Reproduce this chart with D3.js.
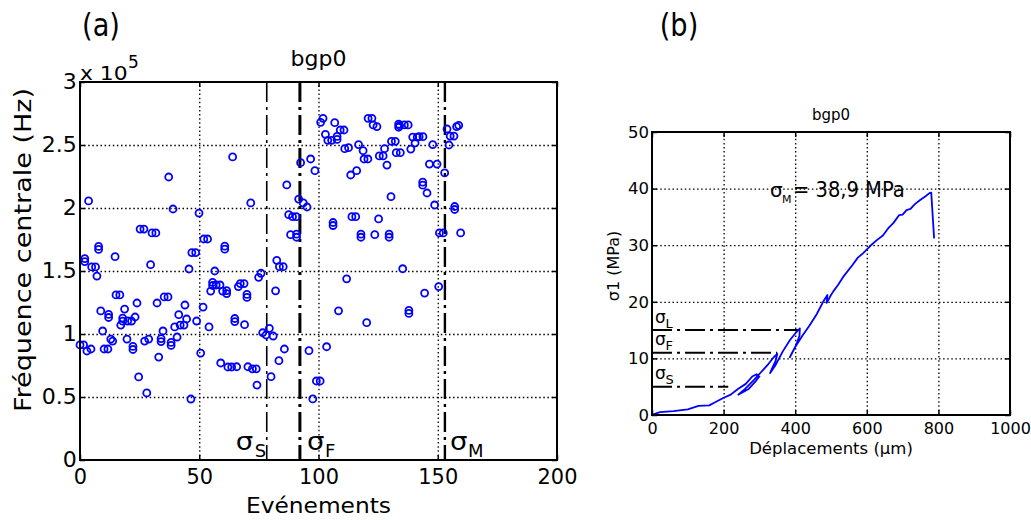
<!DOCTYPE html>
<html><head><meta charset="utf-8">
<script src="https://cdn.jsdelivr.net/npm/d3@7"></script>
<style>body{margin:0;background:#fff} svg{display:block} text{font-family:"DejaVu Sans",sans-serif;fill:#000}</style>
</head><body><svg id="c" width="1031" height="520"></svg>
<script>
// ---------- DATA: panel (a) ----------
const events = [64.0,37.2,3.6,39.0,49.9,25.2,26.8,30.2,31.8,51.9,53.5,7.8,7.8,60.7,60.7,14.7,46.9,48.5,2.0,2.0,4.9,6.5,29.6,45.7,56.5,7.1,15.1,16.7,35.3,36.9,23.9,32.3,8.7,18.7,12.0,12.0,44.0,51.6,41.4,23.1,17.9,17.9,20.0,21.6,44.7,48.9,17.1,42.0,43.6,39.7,34.8,9.5,54.1,64.9,64.9,69.0,0.0,1.5,2.9,4.6,10.1,11.7,12.9,13.7,19.7,22.2,22.2,27.1,28.8,34.0,34.0,38.2,38.2,40.7,33.0,50.6,59.0,62.0,63.6,65.7,24.6,28.0,46.5,55.6,55.6,57.1,58.7,54.8,59.8,61.5,61.5,66.4,67.2,68.8,70.0,70.0,74.9,75.9,82.0,76.6,78.0,79.4,81.0,85.7,83.4,80.1,74.2,70.4,72.3,73.9,96.0,103.4,99.1,100.7,97.6,108.4,111.8,120.2,135.3,150.4,144.5,137.9,137.9,101.9,100.9,106.8,109.1,110.7,102.9,103.9,105.5,107.8,107.8,111.0,112.6,116.8,118.7,119.1,120.7,120.8,122.4,122.9,124.5,133.6,133.6,130.6,132.2,127.7,125.5,127.1,132.6,134.3,128.7,116.0,113.5,130.4,114.0,115.6,125.2,106.1,106.1,117.8,117.8,123.6,129.6,129.6,92.5,96.7,98.5,86.7,71.6,91.7,93.6,95.2,87.5,89.1,90.7,88.3,90.8,90.8,82.5,83.6,85.2,136.0,137.6,134.0,139.5,141.4,142.2,143.8,140.5,138.7,147.9,146.5,149.7,143.7,143.7,145.5,148.7,150.7,152.3,157.1,157.1,159.6,152.9,153.9,155.2,156.8,154.7,157.9,158.8];
// central frequency, in units of 10^5 Hz
const freqE5 = [2.405,2.246,2.056,1.992,1.960,1.833,1.833,1.802,1.802,1.754,1.754,1.671,1.695,1.673,1.697,1.614,1.646,1.646,1.575,1.599,1.532,1.532,1.550,1.516,1.500,1.460,1.310,1.310,1.294,1.294,1.246,1.246,1.183,1.198,1.131,1.155,1.230,1.214,1.153,1.135,1.102,1.126,1.103,1.103,1.119,1.103,1.071,1.071,1.071,1.056,1.024,1.024,1.056,1.099,1.123,1.074,0.913,0.913,0.865,0.881,0.881,0.881,0.960,0.944,0.960,0.877,0.901,0.944,0.960,0.940,0.964,0.909,0.933,0.976,0.817,0.849,0.770,0.738,0.738,0.740,0.659,0.532,0.484,1.385,1.409,1.389,1.389,1.341,1.341,1.321,1.345,1.376,1.400,1.400,1.290,1.314,1.450,1.482,1.343,1.010,0.992,1.045,0.984,0.881,0.788,0.661,0.595,0.740,0.724,0.724,0.868,0.899,0.627,0.627,0.485,1.184,1.438,1.090,1.518,1.376,1.325,1.163,1.187,2.712,2.680,2.677,2.619,2.619,2.585,2.537,2.537,2.544,2.568,2.471,2.479,2.503,2.455,2.389,2.389,2.712,2.712,2.659,2.646,2.641,2.665,2.529,2.529,2.471,2.413,2.413,2.439,2.439,2.341,2.296,2.262,2.090,1.931,1.931,1.913,1.861,1.885,1.768,1.792,1.788,1.768,1.792,2.360,2.389,2.296,2.183,2.040,2.071,2.040,2.008,1.947,1.931,1.931,1.788,1.768,1.792,1.585,1.534,1.534,2.659,2.659,2.653,2.563,2.563,2.566,2.566,2.516,2.468,2.503,2.349,2.349,2.181,2.205,2.119,2.024,1.802,1.802,1.988,2.012,1.802,2.278,2.627,2.571,2.571,2.500,2.646,2.656];
const eventTicks = [0,50,100,150,200];
const freqTicks = [0,0.5,1,1.5,2,2.5,3];
const stageNamesA = ["S","F","M"];
const stageEvents = [78.3,92.2,153];

// ---------- DATA: panel (b) ----------
const dispUm = [0,8,22,60,100,130,160,175,199,220,240,262,280,292,300,290,270,241,260,285,305,325,340,350,345,335,330,345,365,385,400,413,412,402,385,400,420,440,460,478,490,488,500,506,520,534,560,575,590,610,628,645,660,674,690,700,711,722,735,749,765,775,780,788];
const sigmaMPa = [0,0.2,0.5,0.7,1.0,1.6,1.7,2.2,3.0,3.6,4.6,5.5,6.8,7.2,6.8,6.0,4.6,3.6,4.6,6.2,7.6,9.0,10.2,10.8,9.5,8.2,7.4,8.8,11.2,13.2,14.4,15.3,14.0,12.3,10.2,12.0,14.0,15.8,17.8,20.0,21.2,19.8,21.2,21.8,23.0,24.4,26.5,27.8,28.6,29.9,30.9,31.7,33.0,33.9,35.3,35.4,36.2,36.4,37.3,38.0,38.7,39.2,39.3,31.2];
const dispTicks = [0,200,400,600,800,1000];
const sigmaTicks = [0,10,20,30,40,50];
const stageNamesB = ["L","F","S"];
const stageStress = [15,11,5];
const stageLineEnd = [413,350,213];
const sigmaMaxText = "= 38,9 MPa";

// ---------- helpers ----------
const svg = d3.select("#c");
const BLUE = "#0000ff";
function txt(parent, x, y, s, o = {}) {
  let tr = `translate(${x},${y})`;
  if (o.rot) tr += ` rotate(${o.rot})`;
  if (o.sx || o.sy) tr += ` scale(${o.sx || 1},${o.sy || 1})`;
  const t = parent.append("text").attr("transform", tr)
    .attr("text-anchor", o.anchor || "start").attr("font-size", o.size || 16).text(s);
  if (o.len) t.attr("textLength", o.len).attr("lengthAdjust", "spacingAndGlyphs");
  return t;
}
function panel(g, x, y, xTicks, yTicks, o) {
  const [X0, X1] = x.range(), [Y0, Y1] = y.range();
  const W = X1 - X0, H = Y0 - Y1;
  // grid
  const gx = g.append("g").attr("transform", `translate(0,${Y0})`)
    .call(d3.axisBottom(x).tickValues(xTicks.slice(1, -1)).tickSize(-H).tickFormat(""));
  const gy = g.append("g").attr("transform", `translate(${X0},0)`)
    .call(d3.axisLeft(y).tickValues(yTicks.slice(1, -1)).tickSize(-W).tickFormat(""));
  [gx, gy].forEach(a => {
    a.select(".domain").remove();
    a.selectAll("line").attr("stroke", "#000").attr("stroke-width", 1.3).attr("stroke-dasharray", "1.5,2.6");
  });
  // ticks (inward) with labels
  const ab = g.append("g").attr("transform", `translate(0,${Y0})`)
    .call(d3.axisBottom(x).tickValues(xTicks).tickSizeInner(-5).tickSizeOuter(0).tickPadding(o.xPad).tickFormat(d => String(d)));
  const al = g.append("g").attr("transform", `translate(${X0},0)`)
    .call(d3.axisLeft(y).tickValues(yTicks).tickSizeInner(-5).tickSizeOuter(0).tickPadding(o.yPad).tickFormat(d => String(d)));
  const at = g.append("g").attr("transform", `translate(0,${Y1})`)
    .call(d3.axisTop(x).tickValues(xTicks).tickSizeInner(-5).tickSizeOuter(0).tickFormat(""));
  const ar = g.append("g").attr("transform", `translate(${X1},0)`)
    .call(d3.axisRight(y).tickValues(yTicks).tickSizeInner(-5).tickSizeOuter(0).tickFormat(""));
  [ab, al, at, ar].forEach(a => {
    a.select(".domain").remove();
    a.attr("font-family", null).attr("font-size", null);
    a.selectAll("line").attr("stroke", "#000").attr("stroke-width", 1.5);
  });
  ab.selectAll("text").attr("font-size", o.xSize).attr("fill", "#000")
    .attr("transform", `scale(${o.xSx || 1},1)`);
  al.selectAll("text").attr("font-size", o.ySize).attr("fill", "#000")
    .attr("transform", `scale(${o.ySx || 1},1)`);
  return { W, H, X0, X1, Y0, Y1 };
}

// ---------- panel (a) ----------
const ga = svg.append("g");
const xa = d3.scaleLinear().domain([0, 200]).range([80, 557]);
const ya = d3.scaleLinear().domain([0, 3]).range([460, 82]);
const pa = panel(ga, xa, ya, eventTicks, freqTicks, { xPad: 8, yPad: 3, xSize: 22, ySize: 21, xSx: 0.95, ySx: 1.05 });

// stage lines
const stageStyle = [{ w: 1.6 }, { w: 3 }, { w: 2.4 }];
ga.append("g").selectAll("line").data(stageEvents).join("line")
  .attr("x1", d => xa(d)).attr("x2", d => xa(d))
  .attr("y1", ya(3)).attr("y2", ya(0))
  .attr("stroke", "#000").attr("stroke-width", (d, i) => stageStyle[i].w)
  .attr("stroke-dasharray", "20,5,3,5");

// markers
ga.append("g").selectAll("circle").data(events.map((e, i) => [e, freqE5[i]])).join("circle")
  .attr("cx", d => xa(d[0])).attr("cy", d => ya(d[1])).attr("r", 3.5)
  .attr("fill", "none").attr("stroke", BLUE).attr("stroke-width", 1.8);

// frame
ga.append("rect").attr("x", pa.X0).attr("y", pa.Y1).attr("width", pa.W).attr("height", pa.H)
  .attr("fill", "none").attr("stroke", "#000").attr("stroke-width", 2);

// stage labels
const offA = [[-31, -12], [7, 25], [5, 23]];
stageNamesA.forEach((n, i) => {
  const lx = xa(stageEvents[i]);
  txt(ga, lx + offA[i][0], 450, "σ", { size: 25, sx: 1.1 });
  txt(ga, lx + offA[i][1], 457, n, { size: 18 });
});

// texts
txt(svg, 101, 36, "(a)", { size: 32, anchor: "middle", sx: 0.85 });
txt(svg, xa(100), 66, "bgp0", { size: 22, anchor: "middle" });
txt(svg, 80, 80, "x 10", { size: 19, sx: 1.15 });
txt(svg, 128, 68, "5", { size: 17 });
txt(svg, 31, 250, "Fréquence centrale (Hz)", { size: 23, anchor: "middle", rot: -90, len: 324 });
txt(svg, xa(100), 513, "Evénements", { size: 21, anchor: "middle", len: 145 });

// ---------- panel (b) ----------
const gb = svg.append("g");
const xb = d3.scaleLinear().domain([0, 1000]).range([652, 1010]);
const yb = d3.scaleLinear().domain([0, 50]).range([415, 132]);
const pb = panel(gb, xb, yb, dispTicks, sigmaTicks, { xPad: 8, yPad: 3, xSize: 16, ySize: 16.5 });

// stage lines
gb.append("g").selectAll("line").data(stageStress).join("line")
  .attr("x1", xb(0)).attr("x2", (d, i) => xb(stageLineEnd[i]))
  .attr("y1", d => yb(d)).attr("y2", d => yb(d))
  .attr("stroke", "#000").attr("stroke-width", 2).attr("stroke-dasharray", "20,5,3,5");

// curve
const line = d3.line().x(d => xb(d[0])).y(d => yb(d[1]));
gb.append("path").datum(dispUm.map((d, i) => [d, sigmaMPa[i]]))
  .attr("d", line).attr("fill", "none").attr("stroke", BLUE).attr("stroke-width", 1.8)
  .attr("stroke-linejoin", "round");

// frame
gb.append("rect").attr("x", pb.X0).attr("y", pb.Y1).attr("width", pb.W).attr("height", pb.H)
  .attr("fill", "none").attr("stroke", "#000").attr("stroke-width", 2);

// stage labels
stageNamesB.forEach((n, i) => {
  const ly = yb(stageStress[i]);
  txt(gb, xb(0) + 3, ly - 7.5, "σ", { size: 17 });
  txt(gb, xb(0) + 13.5, ly - 2.5, n, { size: 13 });
});

// sigma max annotation
txt(gb, 770, 197, "σ", { size: 20 });
txt(gb, 782, 203, "M", { size: 11 });
txt(gb, 793, 197, sigmaMaxText, { size: 19.5, sy: 1.08 });

txt(svg, 679, 36, "(b)", { size: 32, anchor: "middle", sx: 0.85 });
txt(svg, xb(500), 120, "bgp0", { size: 15, anchor: "middle" });
txt(svg, xb(500), 454, "Déplacements (µm)", { size: 16.5, anchor: "middle" });
txt(svg, 619, 266, "σ1 (MPa)", { size: 16, anchor: "middle", rot: -90 });
</script>
</body></html>
